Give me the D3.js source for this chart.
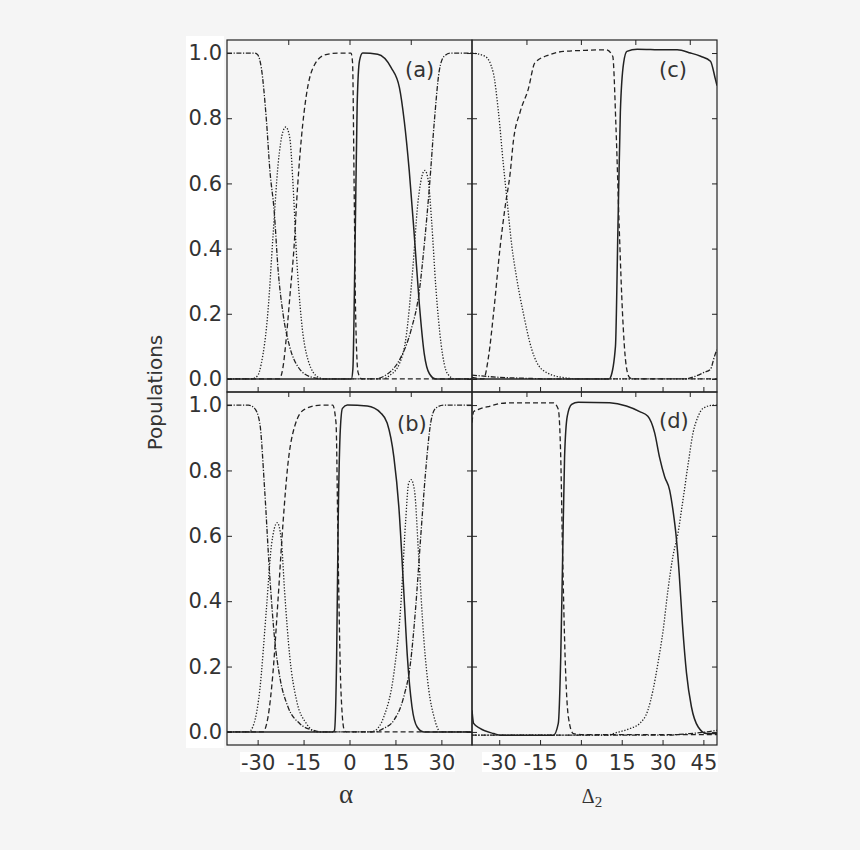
<!DOCTYPE html>
<html>
<head>
<meta charset="utf-8">
<script src="https://cdn.jsdelivr.net/npm/d3@7"></script>
<style>
  html, body { margin: 0; padding: 0; background: #f5f5f5; }
</style>
</head>
<body>
<div id="chart"></div>
<script>
// panel (a): populations vs alpha
const aSolid = [[-40,0],[0.6,0],[1.1,0.03],[1.85,0.43],[2.5,0.84],[3.26,0.976],[4.3,1],[9.2,0.996],[13.6,0.955],[16.3,0.894],[17.9,0.79],[19.5,0.64],[21.2,0.435],[22.8,0.23],[24.4,0.078],[26.1,0.016],[28.2,0],[40,0]];
const aDashed = [[-40,0],[-23,0],[-21.7,0.037],[-20.6,0.13],[-19.5,0.25],[-17.9,0.435],[-17.3,0.537],[-15.7,0.74],[-14.1,0.87],[-11.9,0.955],[-8.1,0.994],[-3.8,1],[0.5,1],[1,0.97],[1.5,0.6],[2,0.2],[2.8,0.02],[4,0],[40,0]];
const aDotted = [[-40,0],[-32,0],[-30,0.01],[-28.8,0.047],[-26.6,0.21],[-25,0.435],[-23.3,0.66],[-21.7,0.76],[-20.8,0.773],[-19.5,0.74],[-18.4,0.59],[-17.3,0.38],[-15.7,0.18],[-13.5,0.057],[-10.3,0.006],[-8,0],[11,0],[13,0.01],[16.3,0.047],[18.5,0.13],[20.6,0.33],[22.3,0.537],[23.6,0.62],[24.6,0.64],[25.7,0.61],[26.8,0.486],[28.2,0.28],[29.9,0.108],[32,0.016],[34.5,0],[40,0]];
const aDashDot = [[-40,1],[-31,1],[-30,0.995],[-28.8,0.955],[-27.1,0.79],[-26,0.64],[-24.6,0.516],[-23.3,0.333],[-21.7,0.2],[-19.5,0.098],[-16.8,0.037],[-12.5,0.006],[-8,0],[8,0],[12.5,0.016],[16.8,0.067],[20.1,0.15],[22.8,0.27],[24.4,0.41],[26.1,0.59],[27.7,0.79],[29.3,0.945],[30.9,0.99],[33,1],[40,1]];

// panel (b): populations vs alpha
const bSolid = [[-40,0],[-5.4,0],[-4.9,0.005],[-4.2,0.23],[-3.7,0.64],[-3.0,0.925],[-2.3,0.99],[-0.7,1],[5.8,0.997],[10.2,0.976],[12.3,0.945],[14.5,0.84],[16.1,0.69],[17.7,0.435],[18.9,0.23],[20.4,0.077],[22.1,0.015],[24.3,0],[40,0]];
const bDashed = [[-40,0],[-28.3,0],[-26.6,0.046],[-25,0.18],[-23.3,0.41],[-21.7,0.64],[-20.1,0.82],[-17.9,0.935],[-14.7,0.987],[-9.3,1],[-5.5,1],[-4.4,0.945],[-3.7,0.537],[-2.8,0.128],[-1.7,0.005],[-1,0],[40,0]];
const bDotted = [[-40,0],[-33,0],[-32.2,0.005],[-29.3,0.128],[-27.1,0.38],[-25.5,0.57],[-23.6,0.64],[-22.3,0.59],[-21.2,0.43],[-19.5,0.23],[-17.3,0.097],[-14.1,0.026],[-10.8,0],[6.9,0],[8.5,0.005],[11.2,0.046],[14.5,0.18],[16.7,0.38],[18.3,0.64],[19.3,0.76],[20.1,0.772],[21.2,0.74],[22.6,0.537],[24.3,0.28],[25.9,0.128],[27.6,0.046],[29.7,0],[40,0]];
const bDashDot = [[-40,1],[-33,1],[-31,0.99],[-29.3,0.945],[-27.7,0.74],[-26.1,0.486],[-24.4,0.28],[-22.8,0.17],[-20.1,0.077],[-16.3,0.026],[-11.9,0.005],[-9,0],[8,0],[11,0.01],[14.5,0.036],[17.7,0.107],[19.9,0.21],[21.6,0.38],[23.2,0.59],[24.8,0.79],[26.5,0.945],[28.1,0.99],[30.8,1],[40,1]];

// panel (c): populations vs Delta2
const cSolid = [[-40,0],[10.5,0],[10.9,0.005],[12.7,0.1],[13.6,0.46],[14.5,0.82],[15.7,0.97],[16.9,1.005],[20.7,1.012],[30.5,1.01],[35.4,1.01],[40.3,1.0],[44,0.99],[47.6,0.975],[49.4,0.92],[50,0.9]];
const cDashed = [[-40,0.005],[-35.8,0],[-33.9,0.07],[-32.1,0.2],[-29.6,0.41],[-27.8,0.53],[-26,0.63],[-24.8,0.73],[-22.3,0.82],[-19.3,0.89],[-16.9,0.97],[-11.4,0.995],[-6.5,1.005],[0.8,1.008],[9.3,1.01],[11.7,0.99],[12.9,0.77],[14.1,0.46],[15.3,0.2],[16.5,0.05],[17.8,0.005],[19,0],[50,0]];
const cDotted = [[-40,1],[-35.2,0.99],[-32.2,0.94],[-30.3,0.82],[-28.5,0.66],[-26.9,0.53],[-25.4,0.41],[-23.6,0.31],[-21.1,0.2],[-18.1,0.092],[-14.4,0.03],[-7.1,0.005],[0.3,0],[50,0]];
const cDashDot = [[-40,0.012],[-30,0.005],[-20,0.002],[-10,0],[38,0],[42,0.008],[45.2,0.02],[47.6,0.03],[49.1,0.07],[50,0.09]];

// panel (d): populations vs Delta2
const dSolid = [[-40,0.066],[-39.4,0.026],[-36.9,0.01],[-32,-0.005],[-29.6,-0.01],[-10.1,-0.01],[-8.3,0.026],[-7.4,0.23],[-6.7,0.537],[-6.0,0.84],[-5.0,0.966],[-3.4,1.002],[-1,1.009],[10.6,1.007],[16.7,0.997],[21.6,0.98],[24.6,0.966],[27.1,0.915],[28.9,0.84],[30.8,0.78],[32.6,0.74],[33.8,0.68],[35.1,0.59],[36.1,0.486],[37.3,0.33],[38.8,0.18],[40.6,0.077],[43.1,0.015],[46.2,-0.005],[50,-0.005]];
const dDashed = [[-40,0.946],[-39.4,0.98],[-37.6,0.987],[-33.3,0.997],[-29.6,1.005],[-24.8,1.007],[-10.1,1.007],[-8.3,0.987],[-7.4,0.84],[-6.7,0.537],[-5.8,0.23],[-4.6,0.046],[-2.8,-0.005],[0,-0.008],[50,-0.008]];
const dDotted = [[-40,-0.01],[10,-0.01],[11.8,-0.005],[17.9,0.01],[21.6,0.026],[24.6,0.066],[26.5,0.128],[28.3,0.21],[30.2,0.31],[32,0.435],[33.8,0.537],[35.7,0.61],[37.5,0.71],[39.4,0.82],[41.2,0.915],[43.1,0.966],[44.9,0.99],[48.8,1.0],[50,1.0]];
const dDashDot = [[-40,-0.01],[30,-0.01],[40,-0.005],[46,0.0],[50,0.005]];

const yTicks = [0, 0.2, 0.4, 0.6, 0.8, 1.0];
const alphaTicks = [-30, -15, 0, 15, 30];
const deltaTicks = [-30, -15, 0, 15, 30, 45];
const alphaTopTicks = [-20, 0, 20];
const deltaTopTicks = [-20, 0, 20, 40];

const width = 860;
const height = 850;
const ink = "#222";
const textColor = "#333";
const font = "'DejaVu Sans', Arial, sans-serif";
const serif = "'Liberation Serif', 'DejaVu Serif', serif";

const styles = {
  solid: null,
  dashed: "5 3",
  dotted: "1.3 1.7",
  dashdot: "5 1.6 1.2 1.6",
};

const svg = d3.select("#chart")
  .append("svg")
  .attr("width", width)
  .attr("height", height)
  .style("font-family", font);

svg.append("rect")
  .attr("width", width)
  .attr("height", height)
  .attr("fill", "#f5f5f5");

const leftX0 = 227, midX = 472, rightX1 = 717;
const topY0 = 40, midY = 392, botY1 = 745;

const yTop = d3.scaleLinear().domain([-0.04, 1.04]).range([midY, topY0]);
const yBot = d3.scaleLinear().domain([-0.04, 1.04]).range([botY1, midY]);
const xAlpha = d3.scaleLinear().domain([-40, 40]).range([leftX0, midX]);
const xDelta = d3.scaleLinear().domain([-40, 50]).range([midX, rightX1]);

// faint white label backgrounds (as in the scanned figure)
svg.append("rect").attr("x", 186).attr("y", 36).attr("width", 38).attr("height", 712).attr("fill", "#fff");
svg.append("rect").attr("x", 240).attr("y", 752).attr("width", 215).attr("height", 20).attr("fill", "#fff");
svg.append("rect").attr("x", 482).attr("y", 752).attr("width", 236).attr("height", 20).attr("fill", "#fff");

const panels = [
  { id: "a", x: xAlpha, y: yTop, series: [aSolid, aDashed, aDotted, aDashDot], label: "(a)", lx: 405, ly: 77, bottomLabels: false, ticks: alphaTicks, topTicks: alphaTopTicks, leftLabels: true },
  { id: "b", x: xAlpha, y: yBot, series: [bSolid, bDashed, bDotted, bDashDot], label: "(b)", lx: 397, ly: 431, bottomLabels: true, ticks: alphaTicks, topTicks: alphaTopTicks, leftLabels: true },
  { id: "c", x: xDelta, y: yTop, series: [cSolid, cDashed, cDotted, cDashDot], label: "(c)", lx: 659, ly: 77, bottomLabels: false, ticks: deltaTicks, topTicks: deltaTopTicks, leftLabels: false },
  { id: "d", x: xDelta, y: yBot, series: [dSolid, dDashed, dDotted, dDashDot], label: "(d)", lx: 659, ly: 428, bottomLabels: true, ticks: deltaTicks, topTicks: deltaTopTicks, leftLabels: false },
];
const dashes = [styles.solid, styles.dashed, styles.dotted, styles.dashdot];

panels.forEach(p => {
  const [x0, x1] = p.x.range();
  const [y1, y0] = p.y.range();
  const g = svg.append("g");

  g.append("clipPath").attr("id", "clip-" + p.id)
    .append("rect").attr("x", x0).attr("y", y0).attr("width", x1 - x0).attr("height", y1 - y0);

  const line = d3.line()
    .x(d => p.x(d[0]))
    .y(d => p.y(d[1]))
    .curve(d3.curveMonotoneX);

  const lines = g.append("g").attr("clip-path", `url(#clip-${p.id})`);
  p.series.forEach((s, i) => {
    lines.append("path")
      .attr("d", line(s))
      .attr("fill", "none")
      .attr("stroke", ink)
      .attr("stroke-width", i === 0 ? 1.5 : 1.3)
      .attr("stroke-dasharray", dashes[i]);
  });

  // axes with inward ticks on all four sides
  const bottom = g.append("g")
    .attr("transform", `translate(0,${y1})`)
    .call(d3.axisBottom(p.x).tickValues(p.ticks).tickSize(-5).tickPadding(10)
      .tickFormat(p.bottomLabels ? (d => d < 0 ? "-" + Math.abs(d) : String(d)) : ""));
  const top = g.append("g")
    .attr("transform", `translate(0,${y0})`)
    .call(d3.axisTop(p.x).tickValues(p.topTicks).tickSize(-5).tickFormat(""));
  const left = g.append("g")
    .attr("transform", `translate(${x0},0)`)
    .call(d3.axisLeft(p.y).tickValues(yTicks).tickSize(-5).tickPadding(5)
      .tickFormat(p.leftLabels ? d3.format(".1f") : ""));
  const right = g.append("g")
    .attr("transform", `translate(${x1},0)`)
    .call(d3.axisRight(p.y).tickValues(yTicks).tickSize(-5).tickFormat(""));

  [bottom, top, left, right].forEach(ax => {
    ax.select(".domain").remove();
    ax.selectAll(".tick line").attr("stroke", ink).attr("stroke-width", 1);
    ax.selectAll(".tick text")
      .attr("fill", textColor)
      .style("font-size", "21px")
      .style("font-family", font);
  });

  g.append("rect")
    .attr("x", x0).attr("y", y0)
    .attr("width", x1 - x0).attr("height", y1 - y0)
    .attr("fill", "none")
    .attr("stroke", ink)
    .attr("stroke-width", 1.2);

  g.append("text")
    .attr("x", p.lx)
    .attr("y", p.ly)
    .attr("fill", textColor)
    .attr("font-size", "21px")
    .text(p.label);
});

svg.append("text")
  .attr("transform", `translate(162,${(topY0 + botY1) / 2}) rotate(-90)`)
  .attr("text-anchor", "middle")
  .attr("fill", textColor)
  .attr("font-size", "20px")
  .text("Populations");

svg.append("text")
  .attr("x", 346)
  .attr("y", 803)
  .attr("text-anchor", "middle")
  .attr("fill", textColor)
  .attr("font-size", "27px")
  .style("font-family", serif)
  .text("α");

const dl = svg.append("text")
  .attr("x", 592)
  .attr("y", 803)
  .attr("text-anchor", "middle")
  .attr("fill", textColor)
  .attr("font-size", "20px")
  .style("font-family", serif);
dl.append("tspan").text("Δ");
dl.append("tspan").attr("font-size", "15px").attr("dy", "4").text("2");
</script>
</body>
</html>
